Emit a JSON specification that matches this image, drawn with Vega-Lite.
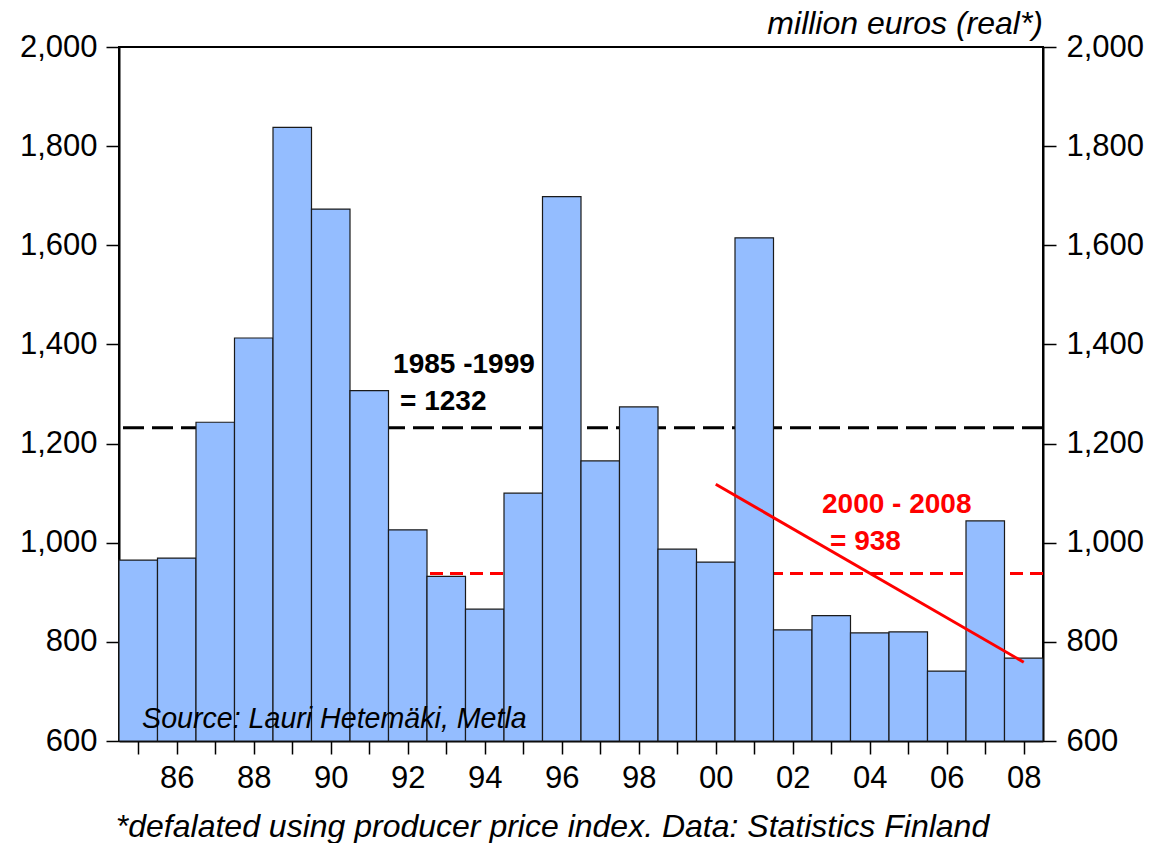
{
  "$schema": "https://vega.github.io/schema/vega-lite/v6.json",
  "width": 924,
  "height": 694,
  "autosize": {"type": "none"},
  "padding": {"left": 119, "top": 47, "right": 109, "bottom": 102},
  "background": "white",
  "config": {
    "font": "Liberation Sans",
    "view": {"stroke": "black", "strokeWidth": 2},
    "axis": {
      "grid": false,
      "domainColor": "black",
      "domainWidth": 2,
      "tickColor": "black",
      "tickWidth": 1.5,
      "tickSize": 13,
      "labelFont": "Liberation Sans",
      "labelFontSize": 31,
      "labelColor": "black",
      "labelPadding": 9
    }
  },
  "datasets": {
    "bars": [
      {"year": 1985, "value": 965},
      {"year": 1986, "value": 969},
      {"year": 1987, "value": 1243},
      {"year": 1988, "value": 1413},
      {"year": 1989, "value": 1838},
      {"year": 1990, "value": 1673},
      {"year": 1991, "value": 1307},
      {"year": 1992, "value": 1026},
      {"year": 1993, "value": 932},
      {"year": 1994, "value": 866},
      {"year": 1995, "value": 1100},
      {"year": 1996, "value": 1698},
      {"year": 1997, "value": 1165},
      {"year": 1998, "value": 1274},
      {"year": 1999, "value": 987},
      {"year": 2000, "value": 961},
      {"year": 2001, "value": 1615},
      {"year": 2002, "value": 824},
      {"year": 2003, "value": 853},
      {"year": 2004, "value": 818},
      {"year": 2005, "value": 820},
      {"year": 2006, "value": 741},
      {"year": 2007, "value": 1044},
      {"year": 2008, "value": 767}
    ],
    "trend": [
      {"year": 2000, "value": 1118},
      {"year": 2008, "value": 759}
    ]
  },
  "layer": [
    {
      "data": {"values": [{"mean": 1232}]},
      "mark": {"type": "rule", "color": "black", "strokeWidth": 3, "strokeDash": [21, 8]},
      "encoding": {
        "y": {"field": "mean", "type": "quantitative", "scale": {"domain": [600, 2000], "nice": false, "zero": false},
          "axis": {"orient": "right", "values": [600, 800, 1000, 1200, 1400, 1600, 1800, 2000], "labelExpr": "format(datum.value, ',')", "title": null, "labelPadding": 10}}
      }
    },
    {
      "data": {"values": [{"mean": 938}]},
      "mark": {"type": "rule", "color": "#FF0000", "strokeWidth": 3, "strokeDash": [13, 7]},
      "encoding": {
        "y": {"field": "mean", "type": "quantitative", "axis": null}
      }
    },
    {
      "data": {"name": "bars"},
      "transform": [
        {"calculate": "datum.year - 0.5", "as": "x0"},
        {"calculate": "datum.year + 0.5", "as": "x1"}
      ],
      "mark": {"type": "rect", "fill": "#94BDFF", "stroke": "#1a1a1a", "strokeWidth": 1.2},
      "encoding": {
        "x": {"field": "x0", "type": "quantitative", "scale": {"domain": [1984.5, 2008.5], "nice": false, "zero": false},
          "axis": {
            "values": [1985, 1986, 1987, 1988, 1989, 1990, 1991, 1992, 1993, 1994, 1995, 1996, 1997, 1998, 1999, 2000, 2001, 2002, 2003, 2004, 2005, 2006, 2007, 2008],
            "labelExpr": "datum.value % 2 == 0 ? substring(toString(datum.value), 2) : ''",
            "labelFlush": false,
            "labelOverlap": false,
            "title": "*defalated using producer price index. Data: Statistics Finland",
            "titleFont": "Liberation Sans",
            "titleFontSize": 32,
            "titleFontStyle": "italic",
            "titleFontWeight": "normal",
            "titleColor": "black",
            "titleX": 433,
            "titleY": 85,
            "titleBaseline": "middle",
            "titleAlign": "center"
          }},
        "x2": {"field": "x1"},
        "y": {"field": "value", "type": "quantitative",
          "axis": {"orient": "left", "values": [600, 800, 1000, 1200, 1400, 1600, 1800, 2000], "labelExpr": "format(datum.value, ',')", "title": null}},
        "y2": {"datum": 600}
      }
    },
    {
      "data": {"name": "trend"},
      "mark": {"type": "line", "color": "#FF0000", "strokeWidth": 3},
      "encoding": {
        "x": {"field": "year", "type": "quantitative"},
        "y": {"field": "value", "type": "quantitative", "axis": null}
      }
    },
    {
      "data": {"values": [
        {"x": 1991.62, "y": 1358, "text": "1985 -1999", "c": "black"},
        {"x": 1991.80, "y": 1284, "text": "= 1232", "c": "black"},
        {"x": 2002.76, "y": 1076, "text": "2000 - 2008", "c": "red"},
        {"x": 2002.97, "y": 1001, "text": "= 938", "c": "red"}
      ]},
      "mark": {"type": "text", "align": "left", "baseline": "middle", "fontSize": 28, "fontWeight": "bold", "font": "Liberation Sans"},
      "encoding": {
        "x": {"field": "x", "type": "quantitative"},
        "y": {"field": "y", "type": "quantitative", "axis": null},
        "text": {"field": "text"},
        "color": {"field": "c", "type": "nominal", "scale": {"domain": ["black", "red"], "range": ["#000000", "#FF0000"]}, "legend": null}
      }
    },
    {
      "data": {"values": [
        {"x": 1985.1, "y": 644, "text": "Source: Lauri Hetemäki, Metla"}
      ]},
      "mark": {"type": "text", "align": "left", "baseline": "middle", "fontSize": 28.6, "fontStyle": "italic", "font": "Liberation Sans", "color": "black"},
      "encoding": {
        "x": {"field": "x", "type": "quantitative"},
        "y": {"field": "y", "type": "quantitative", "axis": null},
        "text": {"field": "text"}
      }
    },
    {
      "data": {"values": [
        {"x": 2008.5, "y": 2046, "text": "million euros (real*)"}
      ]},
      "mark": {"type": "text", "align": "right", "baseline": "middle", "fontSize": 32, "fontStyle": "italic", "font": "Liberation Sans", "color": "black", "clip": false},
      "encoding": {
        "x": {"field": "x", "type": "quantitative"},
        "y": {"field": "y", "type": "quantitative", "axis": null},
        "text": {"field": "text"}
      }
    }
  ],
  "resolve": {"axis": {"y": "independent"}}
}
